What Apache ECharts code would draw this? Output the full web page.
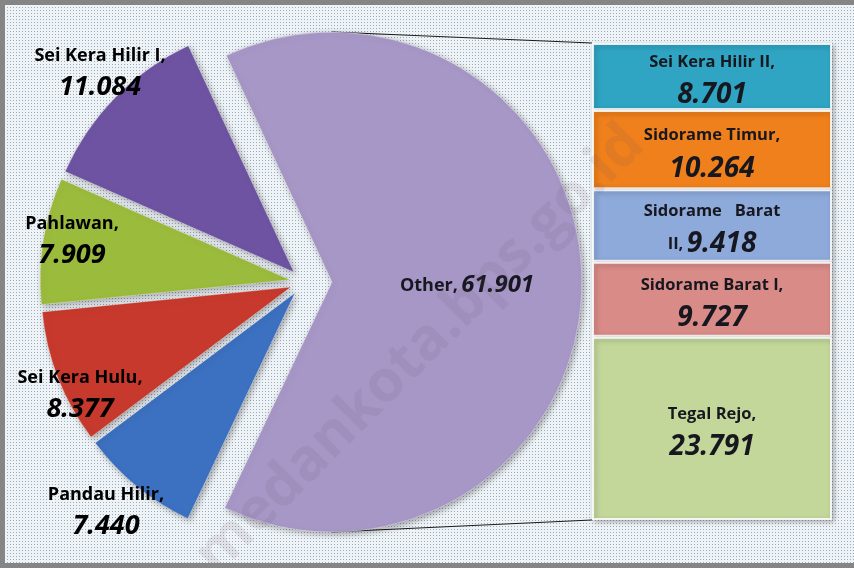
<!DOCTYPE html>
<html>
<head>
<meta charset="UTF-8">
<title>Pie of bar</title>
<script src="https://cdn.jsdelivr.net/npm/echarts@6/dist/echarts.min.js"></script>
<style>
html, body { margin: 0; padding: 0; }
#main { width: 854px; height: 568px; }
</style>
</head>
<body>
<div id="main"></div>
<script>
// pie part, clockwise from the upper left ('Other' first)
var pieNames = ['Other', 'Pandau Hilir', 'Sei Kera Hulu', 'Pahlawan', 'Sei Kera Hilir I'];
var pieValues = [61.901, 7.440, 8.377, 7.909, 11.084];
var pieColors = ['#a697c7', '#3c70c0', '#c8392d', '#9bbb3d', '#6e53a2'];

// bar part, top to bottom
var barNames = ['Sei Kera Hilir II', 'Sidorame Timur', 'Sidorame Barat II', 'Sidorame Barat I', 'Tegal Rejo'];
var barValues = [8.701, 10.264, 9.418, 9.727, 23.791];
var barColors = ['#2fa5c3', '#ef801b', '#8eaadb', '#d98b88', '#c3d79b'];

// layout
var pieCenter = [304, 282];
var pieR = 250;
var otherOffset = 28;
var smallOffset = 14;
var barBox = { left: 592, top: 43, width: 240, height: 477 };
// label centres of the small slices (index = pie index)
var labelPos = [null, [106, 511], [80, 394], [72, 240], [100, 72]];

var chart = echarts.init(document.getElementById('main'));

// dotted background
var pat = document.createElement('canvas');
pat.width = 3; pat.height = 3;
var pctx = pat.getContext('2d');
pctx.fillStyle = '#eef3f7';
pctx.fillRect(0, 0, 3, 3);
pctx.fillStyle = '#9ea9b4';
pctx.fillRect(1, 1, 1, 1);

var txt = '#17171f';
var font = 'Open Sans';
var pieRich = {
	n: { fontFamily: font, fontWeight: 'bold', fontSize: 18, color: txt, lineHeight: 30 },
	v: { fontFamily: font, fontStyle: 'italic', fontWeight: 'bold', fontSize: 27, color: txt, lineHeight: 32 },
	on: { fontFamily: font, fontWeight: 'bold', fontSize: 18, color: txt },
	ov: { fontFamily: font, fontStyle: 'italic', fontWeight: 'bold', fontSize: 24, color: txt }
};
var barRich = {
	n: { fontFamily: font, fontWeight: 'bold', fontSize: 16.5, color: txt, lineHeight: 30 },
	v: { fontFamily: font, fontStyle: 'italic', fontWeight: 'bold', fontSize: 28, color: txt, lineHeight: 36 }
};

function fmt(v) { return v.toFixed(3); }

function pieData(showOther) {
	return pieNames.map(function (name, i) {
		var isOther = i === 0;
		var visible = isOther === showOther;
		return {
			name: name,
			value: pieValues[i],
			selected: true,
			itemStyle: visible ? {
				color: pieColors[i],
				borderColor: 'rgba(255,255,255,0.35)',
				borderWidth: 1,
				shadowBlur: 6,
				shadowColor: 'rgba(0,0,0,0.35)',
				shadowOffsetX: 2,
				shadowOffsetY: 2
			} : { color: 'rgba(0,0,0,0)', borderWidth: 0 }
		};
	});
}

var pieBase = {
	type: 'pie',
	center: pieCenter,
	radius: pieR,
	startAngle: 115,
	clockwise: true,
	selectedMode: 'multiple',
	avoidLabelOverlap: false,
	silent: true,
	animation: false,
	labelLine: { show: false },
	emphasis: { disabled: true }
};

var series = [];

// small slices (their labels are drawn as graphic text below)
series.push(Object.assign({}, pieBase, {
	name: 'small',
	selectedOffset: smallOffset,
	data: pieData(false),
	label: { show: false }
}));

// 'Other' slice
var otherData = pieData(true);
otherData.forEach(function (d, i) { d.label = { show: i === 0 }; });
series.push(Object.assign({}, pieBase, {
	name: 'other',
	selectedOffset: otherOffset,
	data: otherData,
	label: {
		show: true,
		position: 'inside',
		formatter: function (p) { return '{on|' + p.name + ',} {ov|' + fmt(p.value) + '}'; },
		rich: pieRich
	},
	labelLayout: function () {
		return { dx: 7, dy: 3 };
	}
}));

// stacked bar for the 'Other' breakdown
barNames.forEach(function (name, i) {
	series.push({
		type: 'bar',
		name: name,
		stack: 'other',
		barWidth: '100%',
		silent: true,
		animation: false,
		data: [barValues[i]],
		itemStyle: {
			color: barColors[i],
			borderColor: 'rgba(255,255,255,0.85)',
			borderWidth: 2,
			shadowBlur: 5,
			shadowColor: 'rgba(0,0,0,0.3)',
			shadowOffsetX: 2,
			shadowOffsetY: 2
		},
		label: {
			show: true,
			position: 'inside',
			offset: [0, 4],
			formatter: function (p) {
				if (p.seriesName === 'Sidorame Barat II') {
					return '{n|Sidorame   Barat}\n{n|II,} {v|' + fmt(p.value) + '}';
				}
				return '{n|' + p.seriesName + ',}\n{v|' + fmt(p.value) + '}';
			},
			rich: barRich
		}
	});
});

var barTotal = barValues.reduce(function (a, b) { return a + b; }, 0);

// connector lines from the top / bottom of the 'Other' slice to the bar
var oc = [pieCenter[0] + otherOffset, pieCenter[1]];

var graphics = [
	{
		type: 'line', z: -10, silent: true,
		shape: { x1: oc[0], y1: oc[1] - pieR, x2: barBox.left, y2: barBox.top },
		style: { stroke: '#1a1a1a', lineWidth: 1.2 }
	},
	{
		type: 'line', z: -10, silent: true,
		shape: { x1: oc[0], y1: oc[1] + pieR, x2: barBox.left, y2: barBox.top + barBox.height },
		style: { stroke: '#1a1a1a', lineWidth: 1.2 }
	}
];

// labels of the small slices
pieNames.forEach(function (name, i) {
	if (!labelPos[i]) return;
	graphics.push({
		type: 'text', z: 50, silent: true,
		x: labelPos[i][0], y: labelPos[i][1],
		style: {
			text: '{n|' + name + ',}\n{v|' + fmt(pieValues[i]) + '}',
			rich: pieRich,
			align: 'center', verticalAlign: 'middle'
		}
	});
});

graphics.push({
	type: 'text', z: 100, silent: true,
	x: 420, y: 350, rotation: Math.PI / 4,
	style: {
		text: 'medankota.bps.go.id',
		fontFamily: font, fontWeight: 'bold', fontSize: 58,
		fill: 'rgba(110,80,100,0.11)',
		align: 'center', verticalAlign: 'middle'
	}
});
graphics.push({
	type: 'rect', z: 100, silent: true,
	shape: { x: 2.5, y: 2.5, width: 870, height: 563 },
	style: { fill: 'none', stroke: '#858585', lineWidth: 5 }
});

chart.setOption({
	backgroundColor: { image: pat, repeat: 'repeat' },
	animation: false,
	grid: { left: barBox.left, top: barBox.top, width: barBox.width, height: barBox.height },
	xAxis: { type: 'category', data: ['Other'], show: false },
	yAxis: { type: 'value', min: 0, max: barTotal, inverse: true, show: false },
	graphic: graphics,
	series: series
});
</script>
</body>
</html>
